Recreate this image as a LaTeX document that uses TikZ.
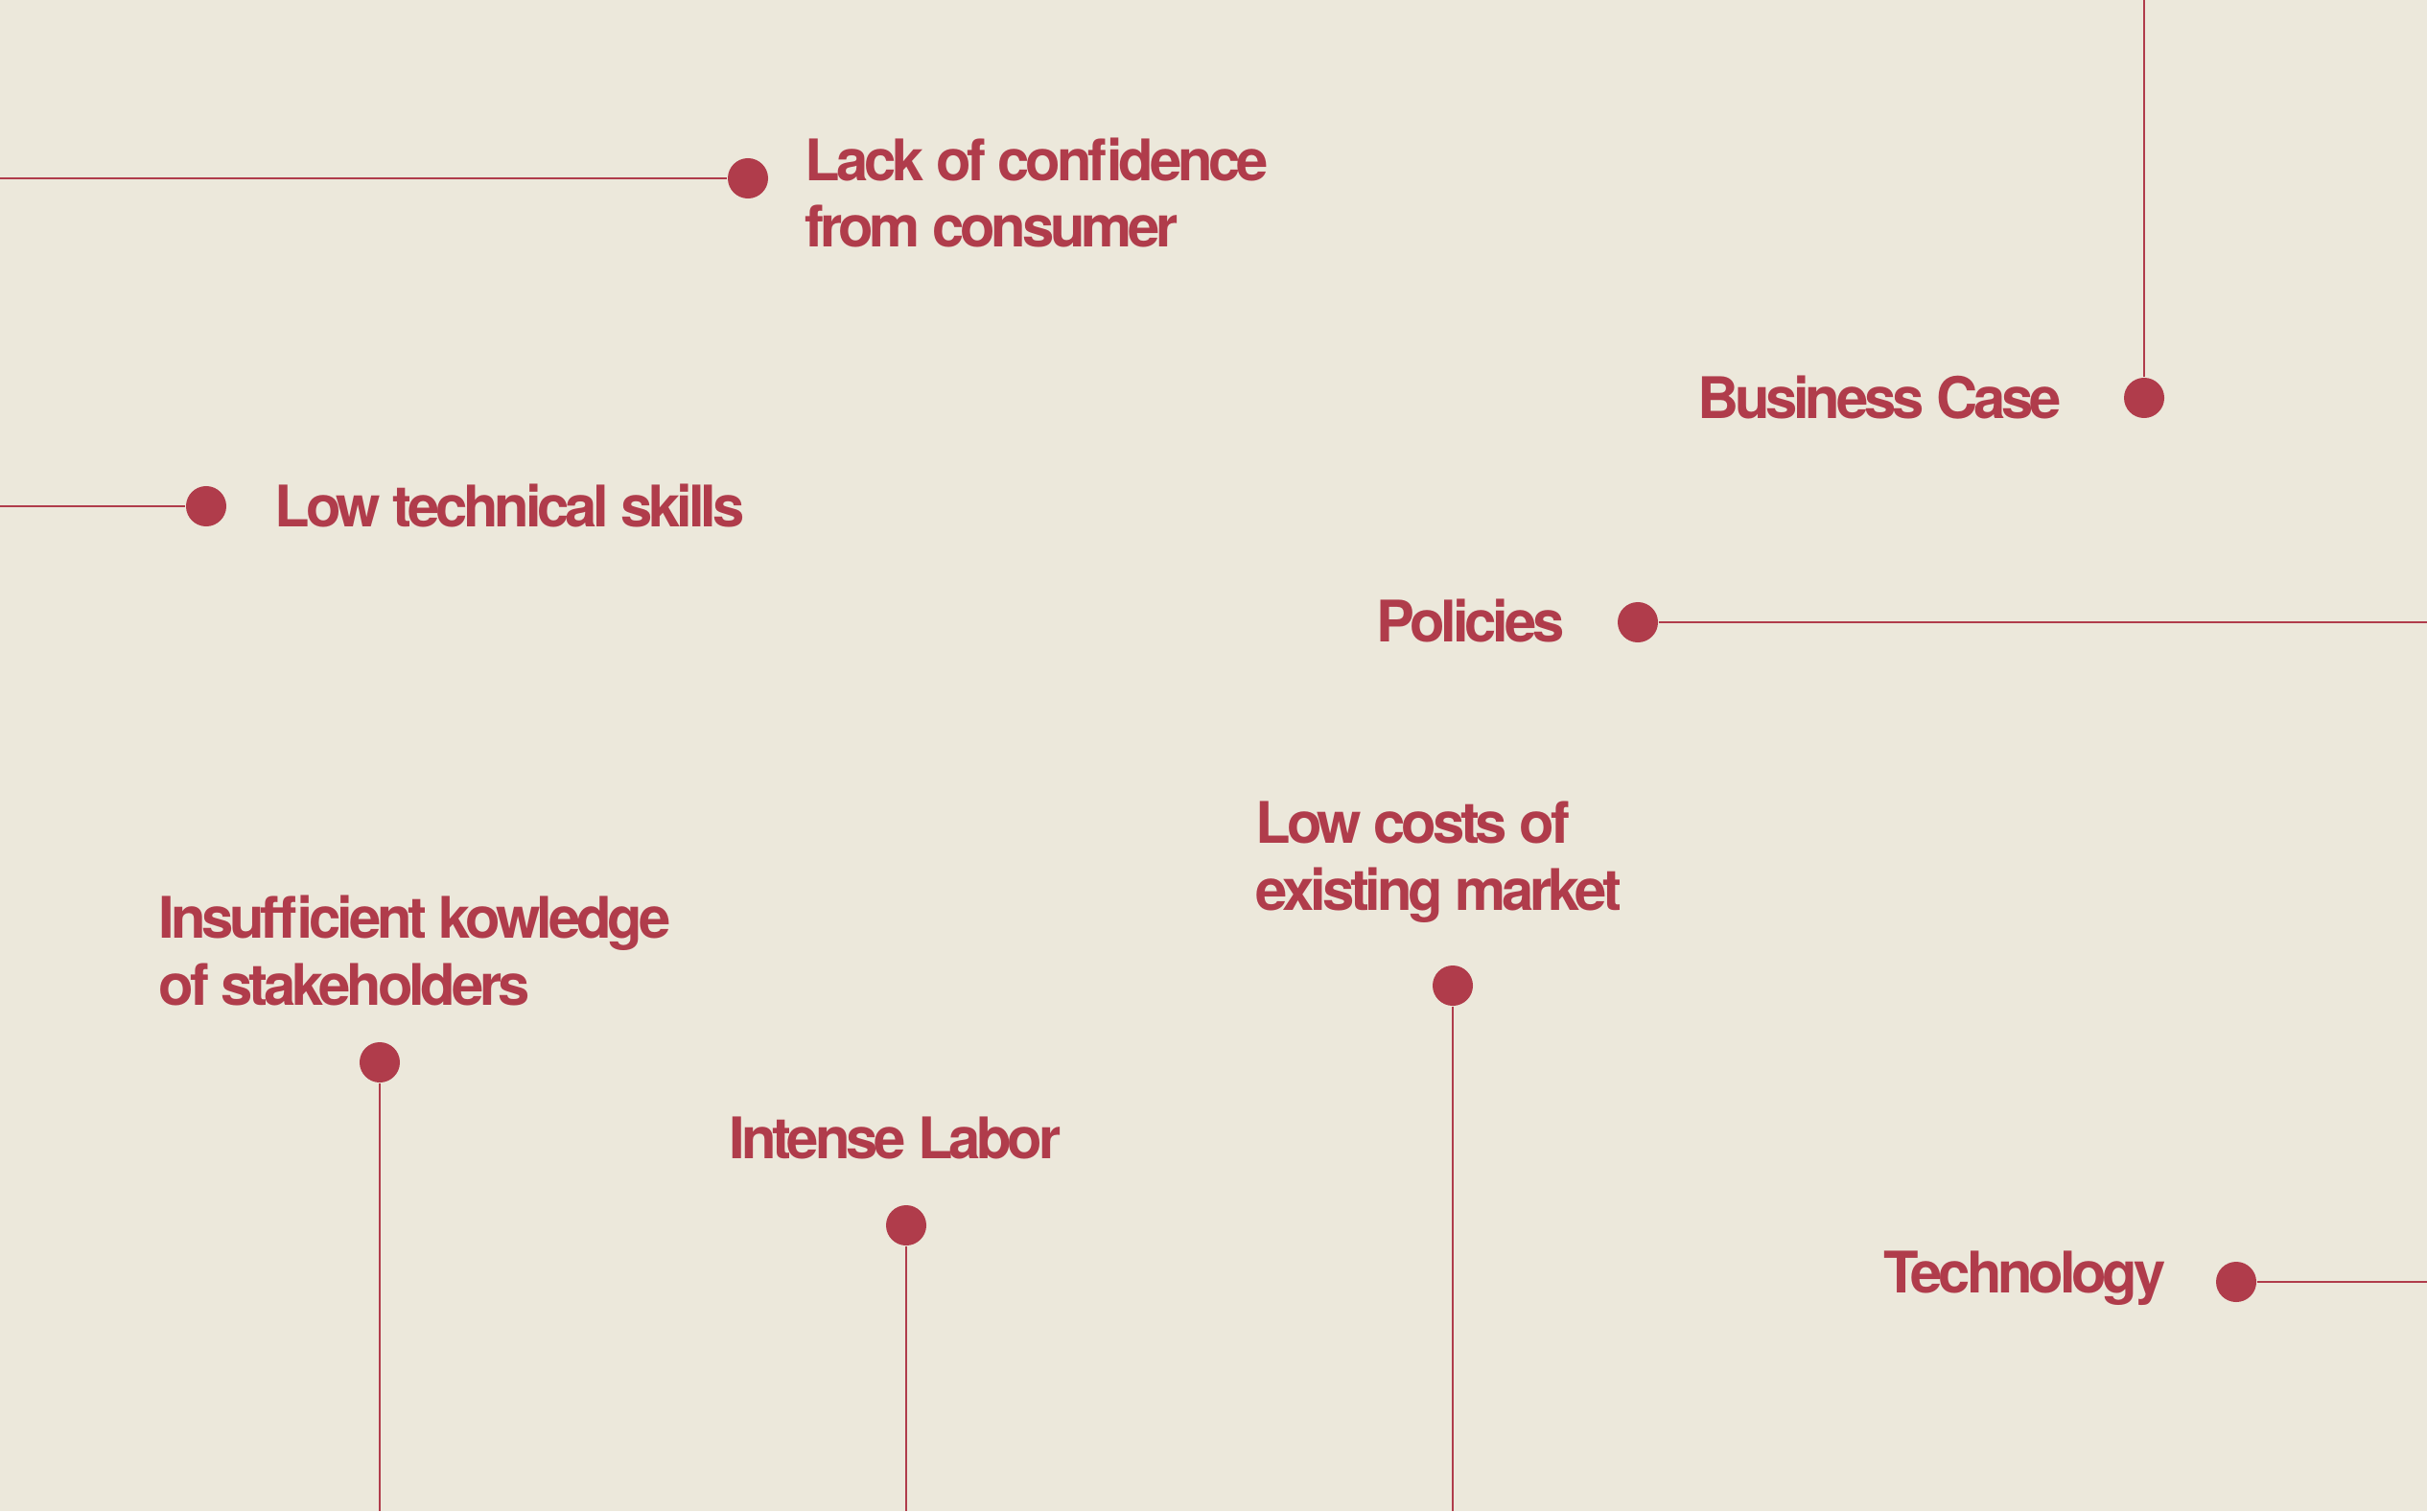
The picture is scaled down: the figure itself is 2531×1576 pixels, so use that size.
\documentclass[tikz,border=0pt]{standalone}
\usepackage{fontspec}
\setmainfont{TeX Gyre Heros}[LetterSpace=-7]
\definecolor{accent}{RGB}{176,60,75}
\definecolor{paper}{RGB}{236,232,219}
\begin{document}
\begin{tikzpicture}[x=0.01cm,y=-0.01cm,
  dot/.style={circle,fill=accent,inner sep=0pt,minimum size=0.42cm},
  conn/.style={draw=accent,line width=0.72pt},
  lbl/.style={text=accent,inner sep=0pt,font=\bfseries\fontsize{17}{19.9}\selectfont,align=left}]
\fill[paper] (0,0) rectangle (2531,1576);
\useasboundingbox (0,0) rectangle (2531,1576);
% coordinates at the picture edges
\coordinate (eL1) at (0,186);
\coordinate (eL2) at (0,528);
\coordinate (eT1) at (2236,0);
\coordinate (eR1) at (2531,649);
\coordinate (eR2) at (2531,1337);
\coordinate (eB1) at (396,1576);
\coordinate (eB2) at (945,1576);
\coordinate (eB3) at (1515,1576);
% dots
\node[dot] (d1) at (780,186) {};
\node[dot] (d2) at (215,528) {};
\node[dot] (d3) at (2236,415) {};
\node[dot] (d4) at (1708,649) {};
\node[dot] (d5) at (1515,1028) {};
\node[dot] (d6) at (396,1108) {};
\node[dot] (d7) at (945,1278) {};
\node[dot] (d8) at (2332,1337) {};
% connectors
\draw[conn] (eL1) -- (d1);
\draw[conn] (eL2) -- (d2);
\draw[conn] (eT1) -- (d3);
\draw[conn] (d4) -- (eR1);
\draw[conn] (d5) -- (eB3);
\draw[conn] (d6) -- (eB1);
\draw[conn] (d7) -- (eB2);
\draw[conn] (d8) -- (eR2);
% labels (for two-line labels the base anchor is the last line's baseline)
\node[lbl,anchor=base west] (t1) at (839,258) {Lack of confidence\\from consumer};
\node[lbl,anchor=base west] (t2) at (286,549) {Low technical skills};
\node[lbl,anchor=base east] (t3) at (2150,436) {Business Case};
\node[lbl,anchor=base east] (t4) at (1632,669) {Policies};
\node[lbl,anchor=base west] (t5) at (1309,949) {Low costs of\\existing market};
\node[lbl,anchor=base west] (t6) at (165,1048) {Insufficient kowledge\\of stakeholders};
\node[lbl,anchor=base west] (t7) at (760,1208) {Intense Labor};
\node[lbl,anchor=base east] (t8) at (2259,1348) {Technology};
\end{tikzpicture}
\end{document}
